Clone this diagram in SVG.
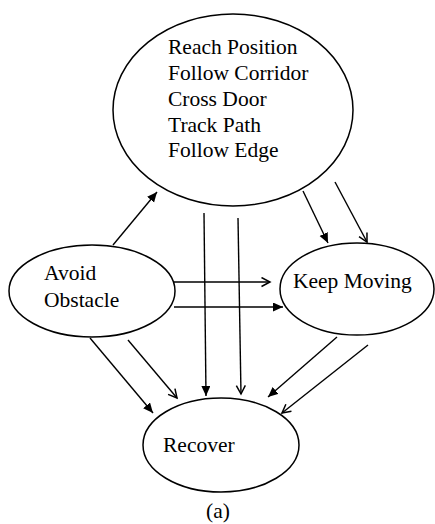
<svg xmlns="http://www.w3.org/2000/svg" width="435" height="524" viewBox="0 0 435 524">
<style>
.node ellipse{fill:none;stroke:#000;stroke-width:1.5}
.node text,.cap{font-family:"Liberation Serif","Times New Roman",serif;font-size:21.5px;fill:#000}
.conn line{stroke:#000;stroke-width:1.4}
.f{marker-end:url(#filled)}
.o{marker-end:url(#open)}
</style>
<defs>
<marker id="filled" markerUnits="userSpaceOnUse" markerWidth="12" markerHeight="10" refX="10" refY="4.5" orient="auto">
<path d="M0,0 L10,4.5 L0,9 z" fill="#000"/>
</marker>
<marker id="open" markerUnits="userSpaceOnUse" markerWidth="12" markerHeight="12" refX="9.5" refY="5" orient="auto">
<path d="M1,0.5 L9.5,5 L1,9.5" fill="none" stroke="#000" stroke-width="1.5"/>
</marker>
</defs>
<rect width="435" height="524" fill="#fff"/>
<g id="top" class="node">
<ellipse cx="233" cy="110" rx="120" ry="96"/>
<text x="168" y="54">Reach Position</text>
<text x="168" y="80">Follow Corridor</text>
<text x="168" y="106">Cross Door</text>
<text x="168" y="132">Track Path</text>
<text x="168" y="157">Follow Edge</text>
</g>
<g id="avoid" class="node">
<ellipse cx="92" cy="291" rx="83" ry="46"/>
<text x="44" y="280">Avoid</text>
<text x="44" y="307">Obstacle</text>
</g>
<g id="keep" class="node">
<ellipse cx="357" cy="289" rx="77" ry="46"/>
<text x="293" y="288">Keep Moving</text>
</g>
<g id="recover" class="node">
<ellipse cx="221" cy="445" rx="78" ry="47"/>
<text x="163" y="452">Recover</text>
</g>
<g id="connectors" class="conn">
<line class="f" x1="113" y1="245" x2="157" y2="192"/>
<line class="f" x1="303" y1="191" x2="328" y2="243"/>
<line class="o" x1="335" y1="182" x2="367" y2="242"/>
<line class="o" x1="174" y1="282" x2="270" y2="282"/>
<line class="f" x1="174" y1="307" x2="283" y2="307"/>
<line class="f" x1="204" y1="213" x2="206" y2="396"/>
<line class="o" x1="238" y1="218" x2="241" y2="394"/>
<line class="f" x1="90" y1="338" x2="153" y2="413"/>
<line class="o" x1="128" y1="340" x2="177" y2="398"/>
<line class="f" x1="337" y1="337" x2="268" y2="397"/>
<line class="o" x1="368" y1="345" x2="282" y2="413"/>
</g>
<text class="cap" x="218" y="518" text-anchor="middle">(a)</text>
</svg>
